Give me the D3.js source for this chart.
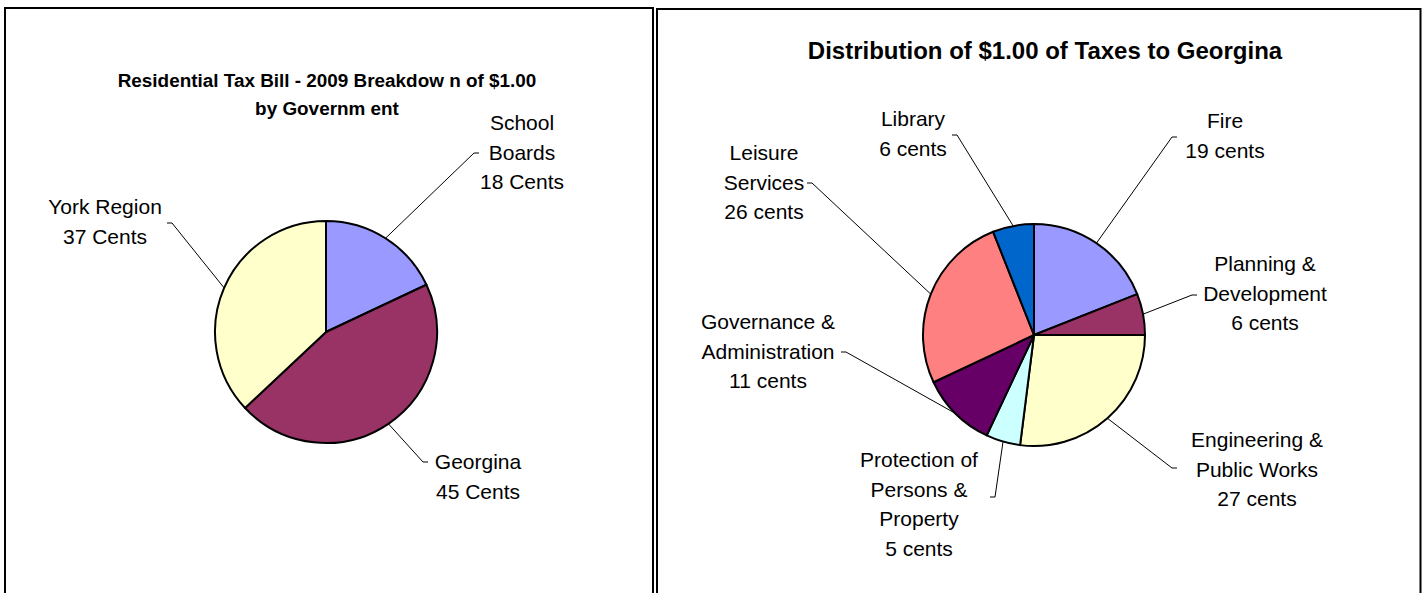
<!DOCTYPE html>
<html>
<head>
<meta charset="utf-8">
<script src="https://cdn.jsdelivr.net/npm/d3@7"></script>
<style>
  body { margin: 0; background: #fff; }
  svg { display: block; font-family: "Liberation Sans", Arial, sans-serif; }
</style>
</head>
<body>
<svg id="viz"></svg>
<script>
var width = 1426;
var height = 593;

// left chart data
var govNames = ["School Boards", "Georgina", "York Region"];
var govValues = [18, 45, 37];
var govLabels = [["School", "Boards", "18 Cents"], ["Georgina", "45 Cents"], ["York Region", "37 Cents"]];
var govColors = ["#9999FF", "#993366", "#FFFFCC"];

// right chart data
var deptNames = ["Fire", "Planning & Development", "Engineering & Public Works",
                 "Protection of Persons & Property", "Governance & Administration",
                 "Leisure Services", "Library"];
var deptValues = [19, 6, 27, 5, 11, 26, 6];
var deptLabels = [
    ["Fire", "19 cents"],
    ["Planning &", "Development", "6 cents"],
    ["Engineering &", "Public Works", "27 cents"],
    ["Protection of", "Persons &", "Property", "5 cents"],
    ["Governance &", "Administration", "11 cents"],
    ["Leisure", "Services", "26 cents"],
    ["Library", "6 cents"]
];
var deptColors = ["#9999FF", "#993366", "#FFFFCC", "#CCFFFF", "#660066", "#FF8080", "#0066CC"];

var svg = d3.select("#viz")
    .attr("width", width)
    .attr("height", height);

// panel frames
svg.append("rect")
    .attr("x", 5).attr("y", 8)
    .attr("width", 648).attr("height", 640)
    .attr("fill", "none").attr("stroke", "black").attr("stroke-width", 2);
svg.append("rect")
    .attr("x", 657).attr("y", 9)
    .attr("width", 763.5).attr("height", 640)
    .attr("fill", "none").attr("stroke", "black").attr("stroke-width", 2);

function drawPie(cfg) {
    var g = svg.append("g")
        .attr("transform", "translate(" + cfg.cx + "," + cfg.cy + ")");

    var pie = d3.pie().sort(null).value(function(d) { return d; });
    var arc = d3.arc().innerRadius(0).outerRadius(cfg.r);
    var arcs = pie(cfg.values);

    g.selectAll("path.slice")
        .data(arcs)
        .enter().append("path")
        .attr("class", "slice")
        .attr("d", arc)
        .attr("fill", function(d, i) { return cfg.colors[i]; })
        .attr("stroke", "black")
        .attr("stroke-width", 2)
        .attr("stroke-linejoin", "round");

    // leader lines: from slice edge at mid angle to elbow, then short tick
    arcs.forEach(function(d, i) {
        var a = (d.startAngle + d.endAngle) / 2;
        var sx = Math.sin(a) * cfg.r;
        var sy = -Math.cos(a) * cfg.r;
        var lay = cfg.layout[i];
        var ex = lay.elbow[0] - cfg.cx, ey = lay.elbow[1] - cfg.cy;
        var tx = ex + (sx < 0 ? -5 : 5);
        g.append("path")
            .attr("d", "M" + sx + "," + sy + "L" + ex + "," + ey + "L" + tx + "," + ey)
            .attr("fill", "none")
            .attr("stroke", "black")
            .attr("stroke-width", 1);

        var t = svg.append("text")
            .attr("x", lay.x)
            .attr("y", lay.y)
            .attr("text-anchor", "middle")
            .attr("font-size", 21)
            .attr("fill", "black");
        cfg.labels[i].forEach(function(line, k) {
            t.append("tspan")
                .attr("x", lay.x)
                .attr("y", lay.y + k * 29.5)
                .text(line);
        });
    });
}

drawPie({
    cx: 326, cy: 332, r: 111,
    values: govValues, colors: govColors, labels: govLabels,
    layout: [
        {x: 522, y: 130, elbow: [474, 153]},
        {x: 478, y: 469, elbow: [423, 462]},
        {x: 105, y: 214, elbow: [172, 223]}
    ]
});

drawPie({
    cx: 1034, cy: 335, r: 111,
    values: deptValues, colors: deptColors, labels: deptLabels,
    layout: [
        {x: 1225, y: 128, elbow: [1172, 137]},
        {x: 1265, y: 271, elbow: [1192, 295]},
        {x: 1257, y: 447, elbow: [1172, 468]},
        {x: 919, y: 467, elbow: [995, 497]},
        {x: 768, y: 329, elbow: [846, 352]},
        {x: 764, y: 160, elbow: [812, 183]},
        {x: 913, y: 126, elbow: [957, 135]}
    ]
});

// titles
var leftTitle = svg.append("text")
    .attr("text-anchor", "middle")
    .attr("font-weight", "bold")
    .attr("font-size", 18.9);
leftTitle.append("tspan").attr("x", 327).attr("y", 87).text("Residential Tax Bill - 2009 Breakdow n of $1.00");
leftTitle.append("tspan").attr("x", 327).attr("y", 115).text("by Governm ent");

svg.append("text")
    .attr("x", 1045).attr("y", 59)
    .attr("text-anchor", "middle")
    .attr("font-weight", "bold")
    .attr("font-size", 24)
    .text("Distribution of $1.00 of Taxes to Georgina");
</script>
</body>
</html>
